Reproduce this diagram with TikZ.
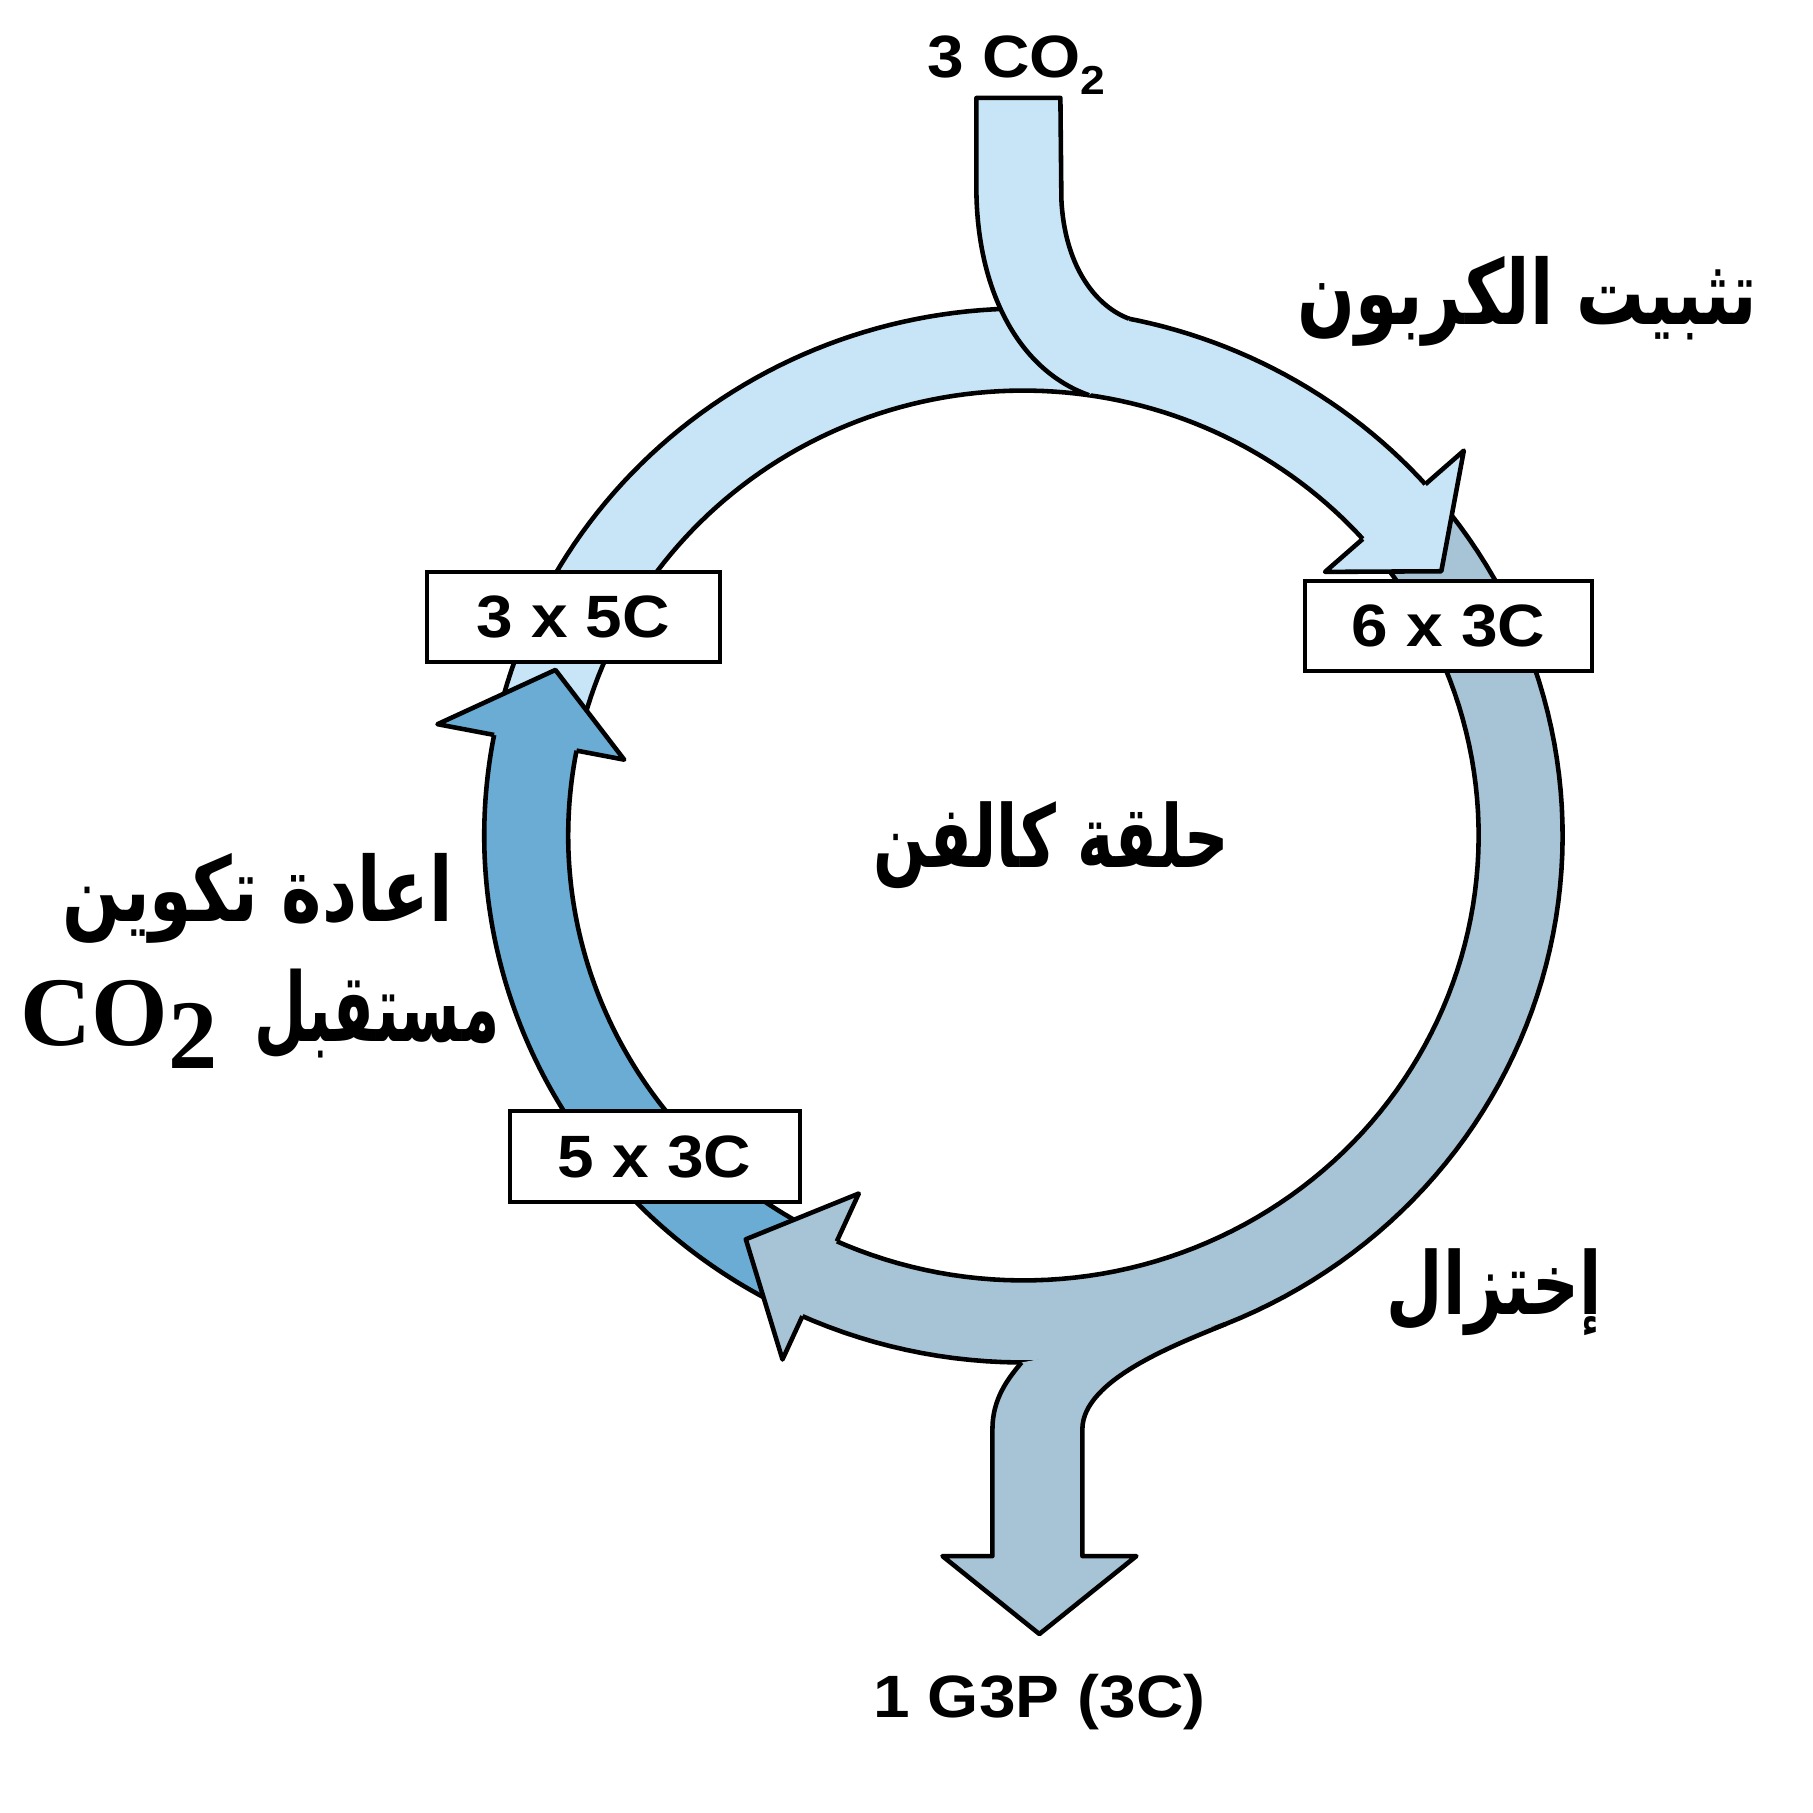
\documentclass[tikz,border=0pt]{standalone}
\usepackage{fontspec}
\usepackage{graphicx}
\setmainfont{Liberation Sans}
\newfontfamily\arabicfont[Script=Arabic]{DejaVu Sans}
\newfontfamily\cofont{Liberation Serif}
\TeXXeTstate=1
\definecolor{cfix}{HTML}{C8E5F7}
\definecolor{cred}{HTML}{A6C4D5}
\definecolor{creg}{HTML}{6AACD3}
\tikzset{
  edge/.style={line width=1.3pt, line join=round},
  cbox/.style={draw, fill=white, line width=1.2pt, inner sep=0pt, font=\fontsize{17}{17}\selectfont\bfseries},
  lbl/.style={inner sep=0pt, font=\fontsize{17}{17}\selectfont\bfseries},
  ar/.style={inner sep=0pt},
}
\newcommand\lat[1]{\scalebox{1.1}[1]{#1}}
\newcommand\arab[3]{\resizebox*{#1}{#2}{\arabicfont\bfseries #3}}
\newcommand\band[3]{%
  \fill[#3] plot[domain=#1:#2, samples=90] (\x:533) -- plot[domain=#2:#1, samples=90] (\x:450) -- cycle;
  \draw[edge] plot[domain=#1:#2, samples=90] (\x:533);
  \draw[edge] plot[domain=#1:#2, samples=90] (\x:450);
}
\newcommand\head[5]{%
  \fill[#5] (#1:450) -- (#1:#3) -- (#2:492) -- (#1:#4) -- (#1:533) -- cycle;
  \draw[edge] (#1:450) -- (#1:#3) -- (#2:492) -- (#1:#4) -- (#1:533);
}
\begin{document}
\begin{tikzpicture}
\useasboundingbox (0,0) rectangle (18.13,18.13);
\fill[white] (0,0) rectangle (18.13,18.13);
\begin{scope}[shift={(0cm,18.13cm)}, x=0.01cm, y=-0.01cm]
  % ring bands
  \begin{scope}[shift={(1024,836)}, x=0.01011cm, y=0.00989cm]
    \band{166}{41.3}{cfix}
    \band{39.5}{-114.7}{cred}
    \band{243}{168.5}{creg}
    \coordinate (cin) at (81.7:450);
    \coordinate (cout) at (78.7:533);
    \coordinate (cmid) at (78:492);
    \coordinate (g1) at (-90.2:533);
    \coordinate (g2) at (-68:533);
  \end{scope}
  % CO2 input branch
  \fill[cfix] (977,98) -- (1061,98) -- (1062,200) .. controls (1065,262) and (1093,305) .. (cout) -- (cmid) -- (cin) .. controls (1018,370) and (979,290) .. (977,195) -- cycle;
  \draw[edge] (cin) .. controls (1018,370) and (979,290) .. (977,195) -- (977,98) -- (1061,98) -- (1062,200) .. controls (1065,262) and (1093,305) .. (cout);
  % G3P output branch
  \fill[cred] (g1) .. controls (1008,1380) and (993,1400) .. (993,1430) -- (993,1557) -- (943,1557) -- (1040,1635) -- (1137,1557) -- (1083,1557) -- (1083,1430) .. controls (1083,1380) and (1180,1344) .. (g2) -- cycle;
  \draw[edge] (g1) .. controls (1008,1380) and (993,1400) .. (993,1430) -- (993,1557) -- (943,1557) -- (1040,1635) -- (1137,1557) -- (1083,1557) -- (1083,1430) .. controls (1083,1380) and (1180,1344) .. (g2);
  % arrow heads
  \begin{scope}[shift={(1024,836)}, x=0.01011cm, y=0.00989cm]
    \head{41.8}{32.9}{400}{584}{cfix}
    \head{-114.2}{-123.9}{397}{581}{cred}
    \head{169}{160.1}{402}{590}{creg}
  \end{scope}
  % boxes
  \node[cbox, minimum width=2.93cm, minimum height=0.90cm] (b35) at (573.5,617) {\lat{3 x 5C}};
  \node[cbox, minimum width=2.87cm, minimum height=0.90cm] (b63) at (1449.5,626) {\lat{6 x 3C}};
  \node[cbox, minimum width=2.90cm, minimum height=0.91cm] (b53) at (655,1157.5) {\lat{5 x 3C}};
  % labels
  \node[lbl] (co2in) at (1017,65) {\lat{3 CO\raisebox{-5pt}{\fontsize{11.5}{11.5}\selectfont 2}}};
  \node[lbl] (g3p) at (1040,1703) {\lat{1 G3P (3C)}};
  \node[ar] (fix) at (1528,302) {\arab{4.6cm}{0.9cm}{\beginR تثبيت الكربون\endR}};
  \node[ar] (calvin) at (1052,846) {\arab{3.55cm}{0.87cm}{\beginR حلقة كالفن\endR}};
  \node[ar] (regen1) at (258,899) {\arab{3.9cm}{0.9cm}{\beginR اعادة تكوين\endR}};
  \node[ar] (regen2) at (377,1015) {\arab{2.45cm}{0.9cm}{\beginR مستقبل\endR}};
  \node[anchor=base west, inner sep=0pt] (co2acc) at (20,1046) {\cofont\bfseries\fontsize{28}{28}\selectfont CO\raisebox{-0.23cm}{2}};
  \node[ar] (red) at (1495,1293) {\arab{2.15cm}{0.87cm}{\beginR إختزال\endR}};
\end{scope}
\end{tikzpicture}
\end{document}
